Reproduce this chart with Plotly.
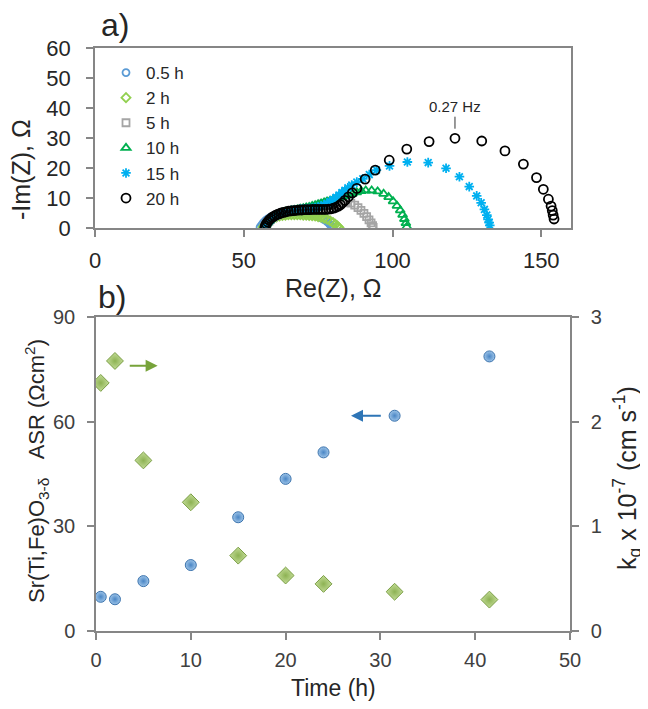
import plotly.graph_objects as go

# ---------------- Panel a: Nyquist data (Re(Z), -Im(Z)) in ohm ----------------
h05 = [(55.5, 0.3), (56.0, 1.0), (56.5, 1.6), (57.0, 2.1), (57.5, 2.6), (58.0, 3.0), (59.0, 3.6),
       (60.0, 4.0), (61.0, 4.4), (62.0, 4.7), (63.0, 4.9), (64.0, 5.1), (65.0, 5.2), (66.0, 5.3),
       (67.0, 5.3), (68.0, 5.3), (69.0, 5.2), (70.0, 5.1), (71.0, 5.0), (72.0, 4.8), (73.0, 4.6),
       (74.0, 4.3), (75.0, 3.9), (76.0, 3.4), (77.0, 2.8), (78.0, 2.1), (78.8, 1.4), (79.4, 0.8),
       (79.8, 0.4), (80.0, 0.1)]
h2 = [(56.5, 0.3), (57.0, 0.9), (57.5, 1.5), (58.0, 2.0), (58.5, 2.4), (59.0, 2.8), (60.0, 3.3),
      (61.0, 3.7), (62.0, 4.0), (63.0, 4.2), (64.0, 4.3), (65.0, 4.4), (66.0, 4.4), (67.0, 4.4),
      (68.0, 4.4), (69.0, 4.4), (70.0, 4.3), (71.0, 4.3), (72.0, 4.2), (73.0, 4.1), (74.0, 4.0),
      (75.0, 3.8), (76.0, 3.6), (77.0, 3.3), (78.0, 2.9), (79.0, 2.4), (80.0, 1.8), (80.8, 1.2),
      (81.4, 0.7), (81.8, 0.3), (82.0, 0.1)]
h5 = [(57.0, 0.3), (57.5, 1.0), (58.0, 1.7), (58.5, 2.3), (59.0, 2.8), (60.0, 3.6), (61.0, 4.2),
      (62.0, 4.7), (63.0, 5.1), (64.0, 5.4), (65.0, 5.6), (66.0, 5.8), (67.0, 6.0), (68.0, 6.1),
      (69.0, 6.2), (70.0, 6.3), (71.0, 6.4), (72.0, 6.6), (73.0, 6.8), (74.0, 7.1), (75.0, 7.4),
      (76.0, 7.8), (77.0, 8.2), (78.5, 8.6), (80.0, 8.8), (81.5, 8.9), (83.0, 8.9), (84.5, 8.7),
      (86.0, 8.3), (87.3, 7.6), (88.4, 6.8), (89.4, 5.9), (90.4, 4.9), (91.3, 3.8), (92.1, 2.7),
      (92.8, 1.7), (93.3, 0.8), (93.5, 0.2)]
h10 = [(57.0, 0.3), (57.5, 1.0), (58.0, 1.7), (58.5, 2.3), (59.0, 2.8), (60.0, 3.6), (61.0, 4.2),
       (62.0, 4.7), (63.0, 5.1), (64.0, 5.4), (65.0, 5.6), (66.0, 5.8), (67.0, 6.0), (68.0, 6.2),
       (69.0, 6.4), (70.0, 6.6), (71.0, 6.8), (72.0, 7.0), (73.0, 7.3), (74.0, 7.6), (75.0, 7.9),
       (76.0, 8.2), (77.0, 8.5), (78.0, 8.8), (79.0, 9.1), (80.0, 9.4), (81.0, 9.7), (82.0, 10.0),
       (83.0, 10.3), (84.0, 10.6), (85.0, 10.9), (86.5, 11.4), (88.0, 11.9), (89.5, 12.3),
       (91.0, 12.5), (93.0, 12.5), (95.0, 12.2), (97.0, 11.4), (98.7, 10.3), (100.2, 8.9),
       (101.5, 7.4), (102.6, 5.9), (103.4, 4.4), (104.0, 3.0), (104.5, 1.6), (104.8, 0.4)]
h15 = [(57.0, 0.3), (57.5, 1.0), (58.0, 1.7), (58.5, 2.3), (59.0, 2.8), (60.0, 3.6), (61.0, 4.2),
       (62.0, 4.7), (63.0, 5.1), (64.0, 5.4), (65.0, 5.6), (66.0, 5.8), (67.0, 6.0), (68.0, 6.1),
       (69.0, 6.2), (70.0, 6.3), (71.0, 6.4), (72.0, 6.5), (73.0, 6.6), (74.0, 6.8), (75.0, 7.0),
       (76.0, 7.3), (77.0, 7.7), (78.0, 8.2), (79.0, 8.8), (80.0, 9.5), (81.0, 10.2), (82.0, 11.0),
       (83.0, 11.8), (84.0, 12.6), (85.0, 13.4), (86.3, 14.3), (88.0, 15.3), (90.0, 16.4),
       (92.2, 17.8), (94.6, 19.3), (99.0, 20.7), (105.0, 22.0), (112.0, 21.8), (118.0, 19.9),
       (122.5, 17.1), (125.8, 13.8), (128.3, 10.7), (129.8, 8.4), (130.9, 6.2), (131.7, 4.3),
       (132.1, 2.9), (132.5, 1.8), (132.7, 0.9)]
h20 = [(57.1, 0.2), (57.3, 0.8), (57.6, 1.4), (58.0, 2.0), (58.5, 2.6), (59.0, 3.1), (59.6, 3.6),
       (60.3, 4.0), (61.0, 4.4), (61.8, 4.7), (62.6, 5.0), (63.4, 5.2), (64.2, 5.4), (65.0, 5.6),
       (65.9, 5.7), (66.8, 5.8), (67.7, 5.9), (68.6, 6.0), (69.5, 6.0), (70.4, 6.1), (71.3, 6.1),
       (72.2, 6.1), (73.1, 6.2), (74.0, 6.2), (74.9, 6.2), (75.8, 6.2), (76.7, 6.2), (77.6, 6.2),
       (78.5, 6.3), (79.4, 6.4), (80.2, 6.6), (81.0, 6.9), (81.8, 7.3), (82.5, 7.8), (83.2, 8.4),
       (84.0, 9.2), (85.2, 10.4), (86.5, 11.7), (88.0, 13.2), (90.8, 16.3), (94.2, 19.3),
       (98.9, 22.6), (104.8, 26.3), (112.3, 28.8), (121.0, 29.9), (130.0, 29.0), (137.8, 25.7),
       (144.0, 21.3), (148.4, 16.8), (150.7, 12.9), (152.4, 9.6), (153.3, 7.3), (153.7, 5.8),
       (154.0, 4.3), (154.3, 3.0)]

series_names = ["0.5 h", "2 h", "5 h", "10 h", "15 h", "20 h"]
series_data = [h05, h2, h5, h10, h15, h20]
series_symbols = ["circle-open", "diamond-open", "square-open", "triangle-up-open", "asterisk-open", "circle-open"]
series_colors = ["#5B9BD5", "#92D050", "#A5A5A5", "#00B050", "#00B0F0", "#000000"]
series_sizes = [7, 7, 7, 8, 8, 9]

peak_label = "0.27 Hz"
peak_point = (121.0, 29.9)

# ---------------- Panel b: ASR and kq vs time ----------------
time_h = [0.5, 2, 5, 10, 15, 20, 24, 31.5, 41.5]
asr = [9.8, 9.1, 14.3, 18.9, 32.6, 43.6, 51.2, 61.7, 78.7]
kq = [2.37, 2.58, 1.63, 1.23, 0.72, 0.53, 0.45, 0.375, 0.30]

FONT = "Liberation Sans, Arial, sans-serif"
TXT = "#262626"
AX = "#868686"
OFF = 8                      # page body margin of the html page
W, H = 648 - OFF, 709 - OFF  # figure size so that it fits the window


def px_x(p):
    return (p - OFF) / W


def px_y(p):
    return 1 - (p - OFF) / H


fig = go.Figure()

for name, data, sym, col, sz in zip(series_names, series_data, series_symbols, series_colors, series_sizes):
    xs = [p[0] for p in data]
    ys = [p[1] for p in data]
    fig.add_trace(go.Scatter(
        x=xs, y=ys, mode="markers", name=name, xaxis="x", yaxis="y",
        marker=dict(symbol=sym, color=col, size=sz, line=dict(color=col, width=1.8)),
    ))

fig.add_trace(go.Scatter(
    x=time_h, y=asr, mode="markers", xaxis="x2", yaxis="y2", showlegend=False,
    marker=dict(symbol="circle", size=11, color="#9CC3E8",
                gradient=dict(type="radial", color="#4A86C5"),
                line=dict(color="#3E75AE", width=1)),
))
fig.add_trace(go.Scatter(
    x=time_h, y=kq, mode="markers", xaxis="x2", yaxis="y3", showlegend=False,
    marker=dict(symbol="diamond", size=13, color="#C3DC97",
                gradient=dict(type="radial", color="#8DB253"),
                line=dict(color="#7A9E44", width=1)),
))

axis_common = dict(showgrid=False, zeroline=False, showline=True, linecolor=AX, linewidth=1.5,
                   ticks="outside", tickcolor=AX, tickwidth=1.5, ticklen=7, automargin=False)

fig.update_layout(
    template="none",
    width=W, height=H, margin=dict(l=0, r=0, t=0, b=0, pad=0, autoexpand=False),
    paper_bgcolor="white", plot_bgcolor="white",
    font=dict(family=FONT, color=TXT),
    xaxis=dict(axis_common, domain=[px_x(95), px_x(571)], range=[0, 160], dtick=50, tick0=0,
               anchor="y", mirror=True, tickfont=dict(size=22, color=TXT), ticklabelstandoff=5),
    yaxis=dict(axis_common, domain=[px_y(228), px_y(48)], range=[0, 60], dtick=10, tick0=0,
               anchor="x", mirror=True, tickfont=dict(size=22, color=TXT), ticklabelstandoff=11),
    xaxis2=dict(axis_common, domain=[px_x(96), px_x(570)], range=[0, 50], dtick=10, tick0=0,
                anchor="y2", mirror=True, tickfont=dict(size=20, color="#404040"), ticklabelstandoff=3),
    yaxis2=dict(axis_common, domain=[px_y(631), px_y(317)], range=[0, 90], dtick=30, tick0=0,
                anchor="x2", tickfont=dict(size=20, color="#404040"), ticklabelstandoff=8),
    yaxis3=dict(axis_common, overlaying="y2", side="right", anchor="x2", range=[0, 3], dtick=1,
                tick0=0, tickfont=dict(size=20, color="#404040"), ticklabelstandoff=8),
    showlegend=True,
    legend=dict(x=px_x(106), y=px_y(55), xanchor="left", yanchor="top",
                font=dict(size=17, color=TXT, family=FONT), tracegroupgap=0,
                bgcolor="rgba(0,0,0,0)", borderwidth=0, itemwidth=30),
)


def label(text, x, y, size, angle=0):
    return dict(text=text, x=px_x(x), y=px_y(y), xref="paper", yref="paper", showarrow=False,
                xanchor="center", yanchor="middle", textangle=angle, font=dict(size=size, color=TXT))


annotations = [
    label("a)", 115, 25, 32),
    label("b)", 112, 297, 32),
    label("-Im(Z), Ω", 21, 170, 25, -90),
    label("Re(Z), Ω", 333, 288, 25),
    label("Time (h)", 333, 688, 23),
    label("Sr(Ti,Fe)O<sub>3-δ</sub>\u00a0\u00a0\u00a0ASR (Ωcm<sup>2</sup>)", 37, 471, 22, -90),
    label("k<sub>q</sub> x 10<sup>-7</sup> (cm s<sup>-1</sup>)", 627, 478, 25, -90),
    dict(text=peak_label, x=peak_point[0], y=peak_point[1] + 3.2, xref="x", yref="y",
         showarrow=True, arrowhead=0, arrowwidth=1, arrowcolor="#333333", ax=0, ay=-22,
         font=dict(size=15, color=TXT)),
    dict(text="", x=6.5, y=2.535, ax=3.4, ay=2.535, xref="x2", yref="y3", axref="x2", ayref="y3",
         showarrow=True, arrowhead=2, arrowsize=1.2, arrowwidth=2, arrowcolor="#77A33A"),
    dict(text="", x=26.9, y=61.7, ax=30.2, ay=61.7, xref="x2", yref="y2", axref="x2", ayref="y2",
         showarrow=True, arrowhead=2, arrowsize=1.2, arrowwidth=2, arrowcolor="#2E75B6"),
]
fig.update_layout(annotations=annotations)

fig.write_html("out.html")
